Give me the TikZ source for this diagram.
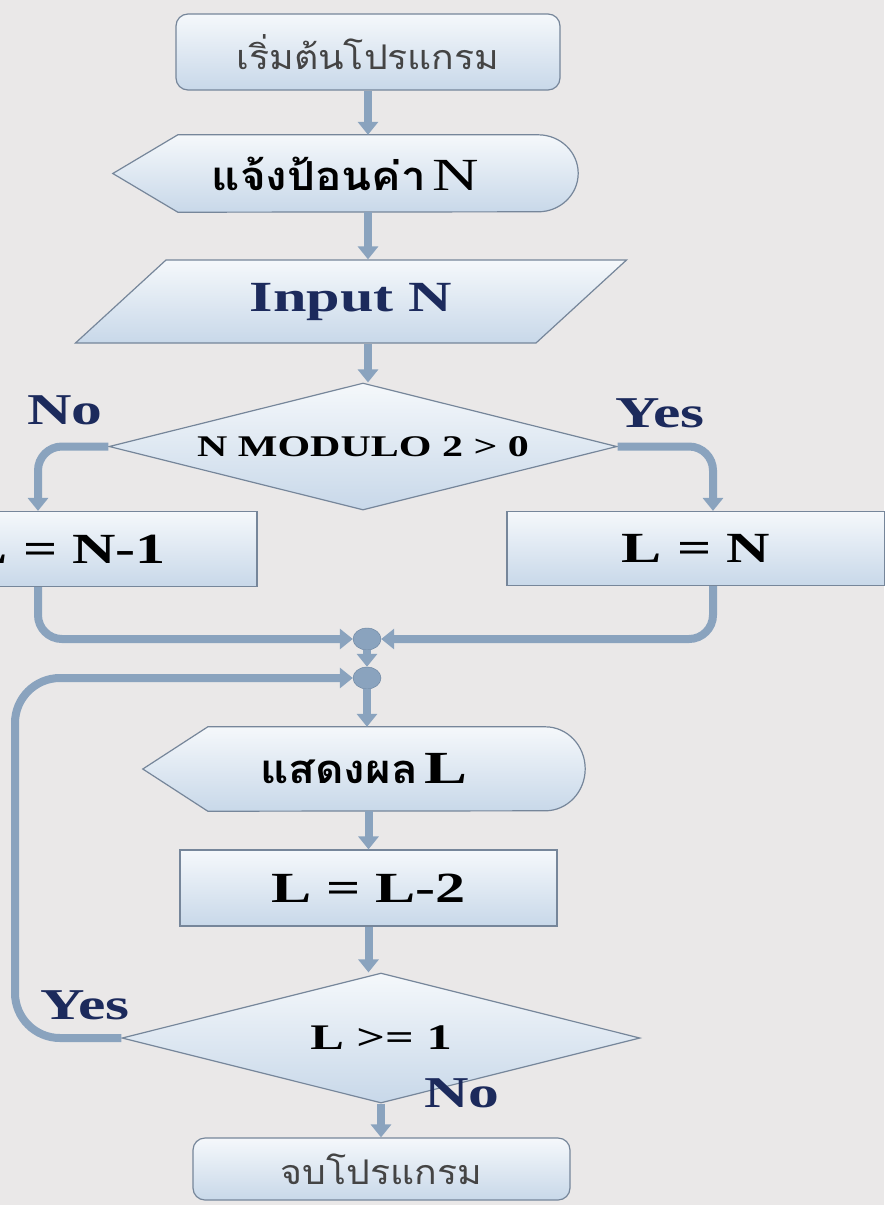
\documentclass[tikz,border=0pt]{standalone}
\usepackage{fontspec}
\setmainfont{Liberation Serif}[FakeStretch=1.4]
\newfontfamily\thaifont[Script=Thai,FakeStretch=1.1]{Loma}
\usetikzlibrary{arrows.meta, positioning, shapes.geometric, backgrounds}

\definecolor{bggray}{RGB}{234,232,232}
\definecolor{boxtop}{RGB}{245,248,251}
\definecolor{boxbot}{RGB}{200,216,233}
\definecolor{boxedge}{RGB}{118,134,154}
\definecolor{pipeblue}{RGB}{138,163,190}
\definecolor{pipeedge}{RGB}{105,130,158}
\definecolor{labelnavy}{RGB}{28,42,92}
\definecolor{thaigray}{RGB}{68,68,68}

\begin{document}
\begin{tikzpicture}[
    x=1pt, y=1pt,
    box/.style={draw=boxedge, line width=1.2pt, top color=boxtop, bottom color=boxbot, align=center, inner sep=0pt},
    term/.style={box, rounded corners=12pt, font=\thaifont\fontsize{34}{40}\selectfont, text=thaigray},
    calc/.style={box, font=\bfseries\fontsize{43}{50}\selectfont},
    io/.style={box, trapezium, trapezium left angle=37, trapezium right angle=143, trapezium stretches=true},
    cond/.style={box, diamond, aspect=4},
    disp/.style={inner sep=0pt, align=center},
    dispshape/.style={draw=boxedge, line width=1.2pt, top color=boxtop, bottom color=boxbot},
    joint/.style={ellipse, draw=pipeedge, fill=pipeblue, minimum width=28pt, minimum height=22pt, inner sep=0pt},
    pipe/.style={draw=pipeblue, line width=8pt, rounded corners=24pt, -{Triangle[width=20pt,length=13pt]}},
    tag/.style={font=\bfseries\fontsize{44}{50}\selectfont, text=labelnavy}
]
\useasboundingbox (0,0) rectangle (884,-1205);

% main column
\node[term, minimum width=384pt, minimum height=76pt] (start) at (368,-52) {เริ่มต้นโปรแกรม};
\node[disp, minimum width=465pt, minimum height=77pt] (ask) at (345.5,-173.5)
    {{\thaifont\bfseries\fontsize{40}{46}\selectfont แจ้งป้อนค่า}\ \ {\fontsize{46}{50}\selectfont N}};
\node[io, minimum width=552pt, minimum height=83pt, text=labelnavy, font=\bfseries\fontsize{43}{50}\selectfont] (inp) at (351,-301.5) {Input N};
\node[cond, minimum width=508pt, minimum height=127pt, font=\bfseries\fontsize{30}{36}\selectfont] (chk) at (363,-446.5) {N MODULO 2 > 0};

% the two branches
\node[calc, minimum width=380pt, minimum height=75pt] (lowN) at (67,-549) {L = N-1};
\node[calc, minimum width=378pt, minimum height=74pt] (sameN) at (696,-548.5) {L = N};

\node[joint] (jn1) at (367,-639) {};
\node[joint] (jn2) at (367,-678) {};
\coordinate (loopx) at (15,-860);

% loop body
\node[disp, minimum width=442pt, minimum height=84pt] (show) at (364,-769)
    {{\thaifont\bfseries\fontsize{40}{46}\selectfont แสดงผล}\ \ {\bfseries\fontsize{46}{50}\selectfont L}};
\node[calc, minimum width=377pt, minimum height=76pt] (dec) at (368.5,-888) {L = L-2};
\node[cond, minimum width=518pt, minimum height=130pt, font=\bfseries\fontsize{36}{42}\selectfont] (test) at (381,-1038) {L >= 1};
\node[term, minimum width=377pt, minimum height=62pt] (stop) at (381.5,-1169) {จบโปรแกรม};

% labels
\node[tag] (no1) at (65,-410) {No};
\node[tag] (yes1) at (660,-413) {Yes};
\node[tag] (yes2) at (85,-1005) {Yes};
\node[tag] (no2) at (462,-1093) {No};

% connectors
\draw[pipe] (start) -- (start |- ask.north);
\draw[pipe] (ask.south -| start) -- (start |- inp.north);
\draw[pipe] (inp.south -| start) -- (start |- chk.north);
\draw[pipe] (chk.west) -| ([xshift=-29pt]lowN.north);
\draw[pipe] (chk.east) -| ([xshift=17pt]sameN.north);
\draw[pipe] ([xshift=-29pt]lowN.south) |- (jn1);
\draw[pipe] ([xshift=17pt]sameN.south) |- (jn1);
\draw[pipe] (jn1) -- (jn2);
\draw[pipe] (jn2) -- (jn2 |- show.north);
\draw[pipe] (show.south -| dec) -- (dec);
\draw[pipe] (dec.south) -- (dec.south |- test.north);
\draw[pipe, rounded corners=45pt] (test.west) -| (loopx) |- (jn2);
\draw[pipe] (test.south) -- (test.south |- stop.north);

\begin{scope}[on background layer]
\fill[bggray] (0,0) rectangle (884,-1205);
% display shapes: pointed left end, rounded right end
\path[dispshape] (ask.west) -- ([xshift=65pt]ask.north west) -- ([xshift=-40pt]ask.north east)
    arc[start angle=90, end angle=-90, x radius=40pt, y radius=38.5pt] -- ([xshift=65pt]ask.south west) -- cycle;
\path[dispshape] (show.west) -- ([xshift=65pt]show.north west) -- ([xshift=-40pt]show.north east)
    arc[start angle=90, end angle=-90, x radius=40pt, y radius=42pt] -- ([xshift=65pt]show.south west) -- cycle;
\end{scope}
\end{tikzpicture}
\end{document}
